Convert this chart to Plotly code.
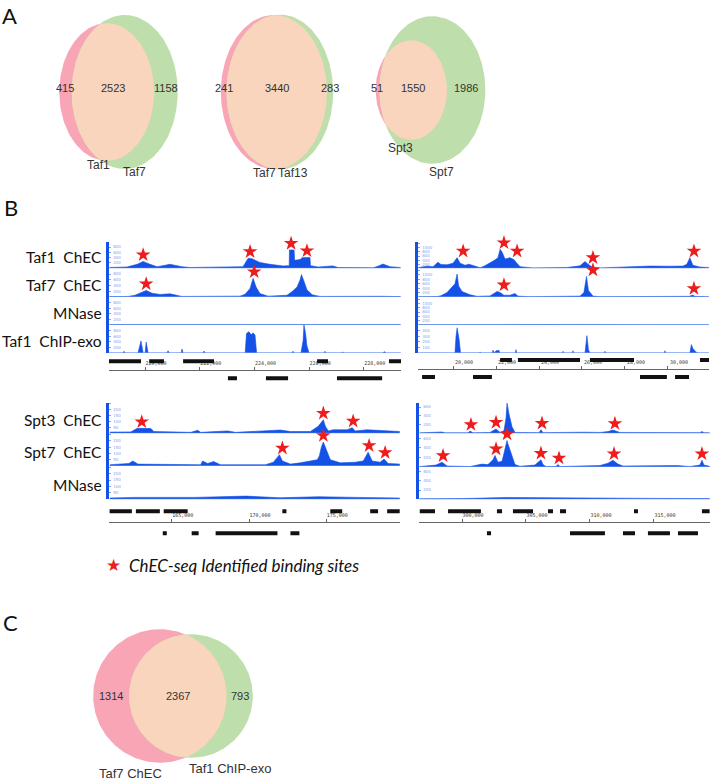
import numpy as np
import plotly.graph_objects as go

W, H = 712, 780

# ---------------- data ----------------
# Venn counts: (only left, both, only right)
venn_a_names = [("Taf1", "Taf7"), ("Taf7", "Taf13"), ("Spt3", "Spt7")]
venn_a_counts = [(415, 2523, 1158), (241, 3440, 283), (51, 1550, 1986)]
venn_c_names = ("Taf7 ChEC", "Taf1 ChIP-exo")
venn_c_counts = (1314, 2367, 793)

# genome browser tracks, (position kb, signal)
tl_taf1_chec = [(218.70, 30), (219.34, 50), (219.71, 150), (219.93, 260), (220.18, 150), (220.44, 60),
                (220.55, 80), (220.91, 150), (221.35, 60), (221.65, 30), (223.58, 60), (223.77, 380),
                (223.91, 360), (224.20, 220), (224.57, 150), (225.05, 90), (225.27, 100), (225.28, 690),
                (225.45, 690), (225.47, 300), (225.67, 330), (225.74, 400), (226.03, 410), (226.05, 100),
                (226.33, 50), (226.87, 90), (227.06, 30), (228.34, 20), (228.52, 80), (228.70, 160),
                (228.96, 60), (229.34, 30)]
tl_taf7_chec = [(218.70, 15), (219.38, 20), (219.63, 60), (219.82, 140), (220.04, 230), (220.26, 130),
                (220.55, 90), (220.91, 110), (221.13, 60), (221.35, 20), (223.47, 30), (223.66, 100),
                (223.84, 300), (223.95, 650), (224.06, 350), (224.20, 120), (224.50, 30), (225.19, 60),
                (225.37, 180), (225.56, 350), (225.67, 600), (225.72, 780), (225.81, 550), (225.92, 250),
                (226.11, 80), (226.40, 20), (228.59, 25), (229.34, 15)]
tl_mnase = [(218.70, 15), (221.00, 20), (223.90, 25), (225.80, 20), (227.50, 15), (229.34, 15)]
tl_taf1_chipexo = [(218.70, 0), (219.20, 0), (219.23, 60), (219.27, 0), (219.74, 0), (219.85, 430),
                   (219.93, 0), (220.00, 0), (220.04, 390), (220.11, 0), (220.80, 0), (220.84, 80),
                   (220.88, 0), (221.32, 0), (221.35, 140), (221.39, 0), (222.12, 0), (222.16, 70),
                   (222.19, 0), (223.66, 0), (223.71, 700), (223.80, 760), (223.88, 650), (223.95, 720),
                   (224.02, 640), (224.08, 0), (225.37, 0), (225.41, 60), (225.45, 0), (225.70, 0),
                   (225.78, 450), (225.81, 1000), (225.87, 700), (225.92, 250), (226.00, 0), (226.55, 0),
                   (226.58, 60), (226.61, 0), (227.20, 0), (227.23, 40), (227.26, 0), (228.70, 0),
                   (228.75, 50), (228.80, 0), (229.34, 0)]

tr_taf1_chec = [(18.40, 40), (18.79, 100), (19.07, 80), (19.30, 300), (19.44, 180), (19.72, 170),
                (20.00, 250), (20.19, 520), (20.33, 250), (20.56, 150), (20.74, 200), (21.02, 100),
                (21.26, 30), (21.44, 100), (21.72, 250), (21.91, 380), (22.09, 520), (22.19, 930),
                (22.28, 800), (22.42, 450), (22.65, 520), (22.84, 420), (22.93, 300), (23.12, 80),
                (23.72, 20), (25.30, 40), (25.91, 120), (26.14, 330), (26.28, 200), (26.47, 60),
                (26.84, 20), (28.37, 100), (29.16, 110), (30.09, 100), (30.70, 110), (30.88, 200),
                (31.02, 520), (31.16, 150), (31.49, 60), (31.90, 40)]
tr_taf7_chec = [(18.40, 15), (19.26, 20), (19.44, 60), (19.72, 200), (19.95, 450), (20.09, 600),
                (20.19, 1040), (20.26, 500), (20.42, 250), (20.79, 100), (21.12, 30), (21.72, 50),
                (22.05, 250), (22.19, 200), (22.37, 80), (22.65, 80), (22.88, 160), (23.02, 40),
                (23.58, 15), (25.91, 40), (26.09, 200), (26.21, 930), (26.30, 300), (26.51, 40),
                (26.84, 15), (31.02, 30), (31.12, 90), (31.26, 30), (31.90, 15)]
tr_mnase = [(18.40, 15), (20.20, 25), (22.20, 20), (26.20, 25), (29.00, 15), (31.90, 15)]
tr_taf1_chipexo = [(18.40, 0), (20.09, 0), (20.14, 300), (20.19, 450), (20.28, 250), (20.35, 0),
                   (21.23, 0), (21.26, 20), (21.29, 0), (21.83, 0), (21.86, 50), (21.93, 0),
                   (22.00, 40), (22.14, 45), (22.18, 0), (22.90, 0), (22.93, 60), (22.96, 0),
                   (25.09, 0), (25.12, 30), (25.15, 0), (25.55, 0), (25.58, 40), (25.61, 0),
                   (26.14, 0), (26.19, 180), (26.23, 310), (26.30, 60), (26.37, 0), (27.04, 0),
                   (27.07, 30), (27.10, 0), (29.83, 0), (29.86, 40), (29.89, 0), (31.02, 0),
                   (31.09, 150), (31.16, 80), (31.30, 20), (31.40, 0), (31.90, 0)]

bl_spt3_chec = [(161.00, 10), (162.35, 12), (162.74, 40), (163.00, 42), (163.65, 40), (163.84, 15),
                (166.23, 8), (166.68, 25), (166.87, 8), (168.61, 20), (169.13, 8), (171.39, 25),
                (172.03, 28), (172.68, 15), (173.97, 15), (174.48, 60), (174.81, 115), (174.94, 60),
                (175.13, 20), (175.45, 30), (176.35, 30), (176.68, 48), (176.87, 20), (177.65, 30),
                (178.68, 25), (179.75, 15)]
bl_spt7_chec = [(161.00, 10), (162.23, 20), (162.48, 40), (162.81, 15), (166.87, 10), (167.00, 40),
                (167.32, 20), (167.71, 35), (168.16, 10), (171.06, 10), (171.58, 30), (171.97, 90),
                (172.16, 40), (172.68, 15), (173.32, 25), (174.42, 50), (174.55, 80), (174.68, 150),
                (174.81, 190), (175.00, 130), (175.26, 50), (175.90, 25), (176.87, 30), (177.39, 40),
                (177.71, 110), (177.97, 40), (178.48, 30), (178.74, 55), (179.00, 20), (179.75, 15)]
bl_mnase = [(161.00, 10), (162.50, 15), (166.50, 15), (169.80, 25), (172.00, 12), (174.50, 20),
            (177.00, 15), (179.75, 10)]

br_spt3_chec = [(296.70, 10), (298.28, 15), (298.44, 30), (298.67, 10), (300.47, 10), (300.63, 50),
                (300.86, 10), (302.19, 20), (302.66, 100), (302.97, 20), (303.28, 60), (303.44, 350),
                (303.52, 690), (303.67, 450), (303.91, 150), (304.14, 20), (306.02, 15), (306.17, 80),
                (306.33, 15), (309.45, 25), (310.78, 20), (311.41, 40), (311.80, 75), (312.34, 20),
                (318.59, 15), (318.75, 40), (318.91, 15), (319.35, 10)]
br_spt7_chec = [(296.70, 10), (297.97, 40), (298.44, 100), (298.83, 20), (300.63, 10), (301.56, 60),
                (302.03, 50), (302.42, 150), (302.58, 240), (302.81, 100), (303.13, 120), (303.36, 350),
                (303.52, 550), (303.59, 480), (303.91, 250), (304.14, 50), (304.53, 15), (305.70, 40),
                (306.17, 150), (306.33, 50), (306.56, 10), (307.34, 10), (307.50, 50), (307.66, 10),
                (310.78, 30), (311.41, 80), (311.80, 140), (312.19, 60), (312.58, 20), (313.91, 20),
                (314.69, 15), (316.80, 30), (317.81, 10), (318.59, 40), (318.75, 140), (318.91, 40),
                (319.35, 15)]
br_mnase = [(296.70, 10), (300.00, 15), (303.52, 40), (306.17, 35), (310.00, 15), (315.00, 20),
            (319.35, 15)]

# ChEC-seq identified binding sites (kb)
tl_taf1_sites = [219.93, 223.84, 225.34, 225.92]
tl_taf7_sites = [220.04, 223.99, 225.70]
tr_taf1_sites = [20.47, 22.37, 22.98, 26.51, 31.21]
tr_taf7_sites = [20.42, 22.37, 26.51, 31.21]
bl_spt3_sites = [163.06, 174.81, 176.74]
bl_spt7_sites = [172.16, 174.81, 177.77, 178.81]
br_spt3_sites = [300.70, 302.66, 303.67, 306.25, 311.95]
br_spt7_sites = [298.52, 302.66, 303.52, 306.17, 307.58, 311.88, 318.75]

# gene annotations (start kb, end kb), two strands
tl_genes_top = [(218.65, 219.85), (220.15, 220.69), (221.39, 222.52), (226.29, 226.69), (228.92, 229.36)]
tl_genes_bot = [(223.03, 223.36), (224.42, 225.23), (227.02, 228.67)]
tr_genes_top = [(22.19, 22.74), (23.02, 25.91), (26.37, 28.42), (31.49, 31.92)]
tr_genes_bot = [(18.56, 19.16), (20.93, 21.81), (28.70, 29.95), (30.33, 30.98)]
bl_genes_top = [(160.98, 162.42), (162.68, 164.23), (164.48, 166.03), (172.16, 172.42), (175.26, 176.03),
                (177.84, 178.35), (178.94, 179.75)]
bl_genes_bot = [(164.42, 164.68), (166.29, 166.74), (167.84, 171.84), (172.68, 173.26)]
br_genes_top = [(296.70, 297.89), (298.91, 301.48), (302.73, 303.13), (303.98, 305.55), (306.72, 307.11),
                (307.66, 308.13), (313.44, 313.75), (318.75, 319.35)]
br_genes_bot = [(301.95, 302.27), (308.44, 311.17), (312.58, 313.52), (314.53, 316.25), (316.88, 318.44)]

tl_ticks = [220, 222, 224, 226, 228]
tl_ticktext = ["220,000", "222,000", "224,000", "226,000", "228,000"]
tr_ticks = [20, 22, 24, 26, 28, 30]
tr_ticktext = ["20,000", "22,000", "24,000", "26,000", "28,000", "30,000"]
bl_ticks = [165, 170, 175]
bl_ticktext = ["165,000", "170,000", "175,000"]
br_ticks = [300, 305, 310, 315]
br_ticktext = ["300,000", "305,000", "310,000", "315,000"]

# ---------------- styling ----------------
PINK = "#F8A5B6"
GREEN = "#BEDFAB"
PEACH = "#F8D5BC"
BLUE = "#1451E6"
LBLUE = "#7FA2F2"
RED = "#EE1C1C"
LABEL_FONT = "Lato"

fig = go.Figure()


def xp(v):
    return v / W


def yp(v):
    return 1 - v / H


def label(x, y, text, size, family, color="#333333", xanchor="center"):
    fig.add_annotation(x=xp(x), y=yp(y), xref="paper", yref="paper", text=text, showarrow=False,
                       xanchor=xanchor, yanchor="middle",
                       font=dict(family=family, size=size, color=color))


# overlay axis in pixel units for the Venn diagrams
fig.update_layout(
    xaxis=dict(domain=[0, 1], range=[0, W], visible=False, fixedrange=True),
    yaxis=dict(domain=[0, 1], range=[H, 0], visible=False, fixedrange=True),
)


def lens_area(d, r1, r2):
    if d >= r1 + r2:
        return 0.0
    if d <= abs(r1 - r2):
        return np.pi * min(r1, r2) ** 2
    a1 = r1 ** 2 * np.arccos((d * d + r1 * r1 - r2 * r2) / (2 * d * r1))
    a2 = r2 ** 2 * np.arccos((d * d + r2 * r2 - r1 * r1) / (2 * d * r2))
    a3 = 0.5 * np.sqrt((-d + r1 + r2) * (d + r1 - r2) * (d - r1 + r2) * (d + r1 + r2))
    return a1 + a2 - a3


def venn(counts, names, mid_x, mid_y, sx, sy, num_y, name_pos, num_size, name_size, fam):
    a, c, b = counts
    r1 = np.sqrt((a + c) / np.pi)
    r2 = np.sqrt((b + c) / np.pi)
    lo, hi = abs(r1 - r2), r1 + r2
    for _ in range(80):
        m = (lo + hi) / 2
        if lens_area(m, r1, r2) > c:
            lo = m
        else:
            hi = m
    d = (lo + hi) / 2
    left = min(-r1, d - r2)
    right = max(r1, d + r2)
    shift = (left + right) / 2
    t = np.linspace(0, 2 * np.pi, 200)

    def tx(x):
        return mid_x + (np.asarray(x) - shift) * sx

    def ty(y):
        return mid_y - np.asarray(y) * sy

    for cx, r, col in [(0, r1, PINK), (d, r2, GREEN)]:
        fig.add_trace(go.Scatter(x=tx(cx + r * np.cos(t)), y=ty(r * np.sin(t)), mode="lines",
                                 fill="toself", fillcolor=col, line=dict(width=0), hoverinfo="skip",
                                 showlegend=False, xaxis="x", yaxis="y"))
    xi = (d * d + r1 * r1 - r2 * r2) / (2 * d)
    yi = np.sqrt(max(r1 * r1 - xi * xi, 0))
    al1 = np.arctan2(yi, xi)
    al2 = np.arctan2(yi, d - xi)
    t1 = np.linspace(-al1, al1, 120)
    t2 = np.linspace(np.pi - al2, np.pi + al2, 120)
    lx = np.concatenate([r1 * np.cos(t1), d + r2 * np.cos(t2)])
    ly = np.concatenate([r1 * np.sin(t1), r2 * np.sin(t2)])
    fig.add_trace(go.Scatter(x=tx(lx), y=ty(ly), mode="lines", fill="toself", fillcolor=PEACH,
                             line=dict(width=0), hoverinfo="skip", showlegend=False,
                             xaxis="x", yaxis="y"))
    # count labels in region centres
    l1, r1e = tx(-r1), tx(r1)
    l2, r2e = tx(d - r2), tx(d + r2)
    xs = [(min(l1, l2) + max(l1, l2)) / 2, (max(l1, l2) + min(r1e, r2e)) / 2,
          (min(r1e, r2e) + max(r1e, r2e)) / 2]
    for xv, val in zip(xs, counts):
        label(xv, num_y, str(val), num_size, fam)
    for nm, (nx, ny) in zip(names, name_pos):
        label(nx, ny, nm, name_size, fam)


NARROW = "Liberation Sans Narrow, Arial"
venn(venn_a_counts[0], venn_a_names[0], 118.5, 92, 1.55, 2.25, 88, [(98, 165), (134, 172)], 11, 12, NARROW)
venn(venn_a_counts[1], venn_a_names[1], 277, 92, 1.55, 2.25, 88, [(264, 173), (293, 173)], 11, 12, NARROW)
venn(venn_a_counts[2], venn_a_names[2], 430.5, 90, 1.58, 2.2, 88, [(400, 148), (441, 172)], 11, 12, NARROW)
venn(venn_c_counts, venn_c_names, 173, 696, 1.95, 1.95, 696, [(130, 773), (230, 768)], 11, 13, "Arial")

# ---------------- genome browser panels ----------------
panels = [
    dict(x=(109, 401), kb=(218.68, 229.36), axis_py=369.7, half=17, ticks=(tl_ticks, tl_ticktext),
         genes=(tl_genes_top, tl_genes_bot),
         tracks=[("Taf1  ChEC", 241.7, 268.3, tl_taf1_chec, 1000, [0, 200, 400, 600, 800], tl_taf1_sites),
                 ("Taf7  ChEC", 268.3, 297, tl_taf7_chec, 1000, [0, 200, 400, 600, 800], tl_taf7_sites),
                 ("MNase", 297, 325, tl_mnase, 1000, [0, 200, 400, 600, 800], []),
                 ("Taf1  ChIP-exo", 325, 353, tl_taf1_chipexo, 1000, [0, 200, 400, 600, 800], [])]),
    dict(x=(418, 709), kb=(18.37, 31.91), axis_py=368.5, half=17, ticks=(tr_ticks, tr_ticktext),
         genes=(tr_genes_top, tr_genes_bot),
         tracks=[("", 241.7, 268.3, tr_taf1_chec, 1300, [0, 200, 400, 600, 800, 1000, 1200], tr_taf1_sites),
                 ("", 268.3, 297, tr_taf7_chec, 1300, [0, 200, 400, 600, 800, 1000, 1200], tr_taf7_sites),
                 ("", 297, 325, tr_mnase, 1300, [0, 200, 400, 600, 800, 1000, 1200], []),
                 ("", 325, 353, tr_taf1_chipexo, 500, [0, 100, 200, 300, 400], [])]),
    dict(x=(109, 400), kb=(160.94, 179.77), axis_py=522.3, half=22, ticks=(bl_ticks, bl_ticktext),
         genes=(bl_genes_top, bl_genes_bot),
         tracks=[("Spt3  ChEC", 402.7, 433.3, bl_spt3_chec, 260, [0, 50, 100, 150, 200, 250], bl_spt3_sites),
                 ("Spt7  ChEC", 433.3, 466, bl_spt7_chec, 260, [0, 50, 100, 150, 200, 250], bl_spt7_sites),
                 ("MNase", 466, 499.3, bl_mnase, 260, [0, 50, 100, 150, 200, 250], [])]),
    dict(x=(419, 710), kb=(296.64, 319.38), axis_py=522.3, half=22, ticks=(br_ticks, br_ticktext),
         genes=(br_genes_top, br_genes_bot),
         tracks=[("", 402.7, 433.3, br_spt3_chec, 700, [0, 200, 400, 600], br_spt3_sites),
                 ("", 433.3, 467, br_spt7_chec, 700, [0, 200, 400, 600], br_spt7_sites),
                 ("", 467, 499.3, br_mnase, 700, [0, 200, 400, 600], [])]),
]

layout_axes = {}
yid = 2
for pi, p in enumerate(panels):
    xid = pi + 2
    xname = f"x{xid}"
    layout_axes[f"xaxis{xid}"] = dict(
        domain=[xp(p["x"][0]), xp(p["x"][1])], range=list(p["kb"]), anchor="free",
        position=yp(p["axis_py"]), side="top", showline=True, linecolor="#666666", linewidth=1,
        tickvals=p["ticks"][0], ticktext=p["ticks"][1], ticks="outside", ticklen=3, tickcolor="#666666",
        ticklabelshift=11,
        tickfont=dict(family="DejaVu Sans Mono", size=5, color="#333333"), showgrid=False,
        zeroline=False, fixedrange=True)
    window = p["kb"][1] - p["kb"][0]
    for (name, top, bot, data, ymax, yticks, sites) in p["tracks"]:
        yname = f"y{yid}"
        layout_axes[f"yaxis{yid}"] = dict(
            domain=[yp(bot), yp(top)], range=[0, ymax], anchor=xname, showline=True, linecolor=BLUE,
            linewidth=3, ticks="inside", ticklen=2, tickcolor=LBLUE, tickvals=yticks,
            ticklabelposition="inside", tickfont=dict(family="DejaVu Sans", size=4, color=LBLUE),
            showgrid=False, zeroline=False, fixedrange=True)
        kx = [q[0] for q in data]
        kv = [q[1] for q in data]
        fig.add_trace(go.Scatter(x=kx, y=kv, mode="lines", fill="tozeroy", fillcolor=BLUE,
                                 line=dict(color=BLUE, width=0.6), hoverinfo="skip", showlegend=False,
                                 xaxis=xname, yaxis=yname))
        # thin baseline
        fig.add_trace(go.Scatter(x=list(p["kb"]), y=[0, 0], mode="lines",
                                 line=dict(color=LBLUE, width=1), hoverinfo="skip", showlegend=False,
                                 xaxis=xname, yaxis=yname))
        if sites:
            ka = np.array(kx)
            va = np.array(kv)
            pad = 6.5 / (bot - top) * ymax
            sy = []
            for s in sites:
                near = va[np.abs(ka - s) <= 0.025 * window]
                peak = near.max() if len(near) else np.interp(s, ka, va)
                sy.append(peak + pad)
            fig.add_trace(go.Scatter(x=sites, y=sy, mode="markers",
                                     marker=dict(symbol="star", size=11, color=RED, line=dict(width=0)),
                                     cliponaxis=False, hoverinfo="skip", showlegend=False,
                                     xaxis=xname, yaxis=yname))
        if name:
            label(104, (top + bot) / 2 + 2, name, 15.5, LABEL_FONT, "#111111", "right")
        yid += 1
    # gene annotation rows
    gname = f"y{yid}"
    layout_axes[f"yaxis{yid}"] = dict(
        domain=[yp(p["axis_py"] + p["half"]), yp(p["axis_py"] - p["half"])],
        range=[-2, 2], anchor=xname, visible=False, fixedrange=True)
    for row, rowy in zip(p["genes"], [1, -1]):
        gx, gy = [], []
        for s, e in row:
            gx += [s, e, None]
            gy += [rowy, rowy, None]
        fig.add_trace(go.Scatter(x=gx, y=gy, mode="lines", line=dict(color="#111111", width=4),
                                 hoverinfo="skip", showlegend=False, xaxis=xname, yaxis=gname,
                                 connectgaps=False))
    yid += 1

fig.update_layout(**layout_axes)

# panel letters and legend
for letter, lx, ly in [("A", 9, 15), ("B", 11, 208), ("C", 10, 622)]:
    label(lx, ly, letter, 22, LABEL_FONT, "#111111")
label(113, 565, "★", 17, "DejaVu Sans", RED)
label(127, 565, "<i>ChEC-seq Identified binding sites</i>", 17, LABEL_FONT, "#111111", "left")

fig.update_layout(width=W, height=H, margin=dict(l=0, r=0, t=0, b=0, autoexpand=False),
                  paper_bgcolor="white", plot_bgcolor="rgba(0,0,0,0)", showlegend=False)
fig.write_html("out.html", config={"displayModeBar": False},
               post_script="document.body.style.margin='0px';")
